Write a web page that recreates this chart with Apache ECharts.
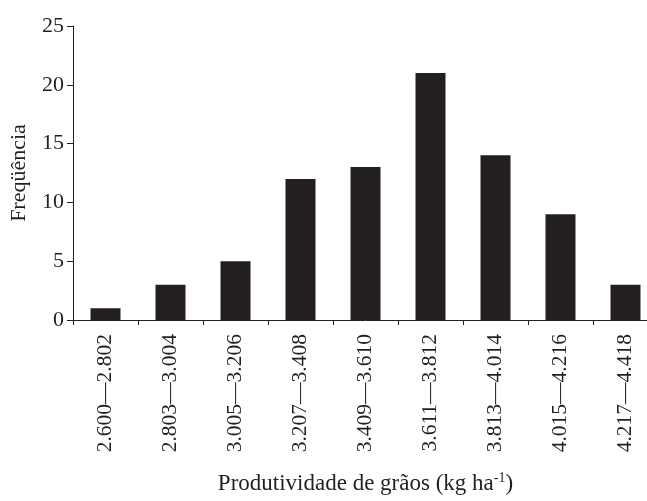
<!DOCTYPE html>
<html>
<head>
<meta charset="utf-8">
<script src="https://cdn.jsdelivr.net/npm/echarts@6/dist/echarts.min.js"></script>
<style>html,body{margin:0;padding:0;background:#fff;overflow:hidden;width:647px;height:501px}#c{width:662px;height:501px}</style>
</head>
<body>
<div id="c"></div>
<script>
const categories = ['2.600—2.802','2.803—3.004','3.005—3.206','3.207—3.408','3.409—3.610','3.611—3.812','3.813—4.014','4.015—4.216','4.217—4.418'];
const frequencies = [1, 3, 5, 12, 13, 21, 14, 9, 3];
const yTicks = {min: 0, max: 25, interval: 5};

const ink = '#231f20';
const font = 'Liberation Serif';
const chart = echarts.init(document.getElementById('c'), null, {renderer: 'canvas'});
chart.setOption({
  animation: false,
  backgroundColor: '#fff',
  grid: {left: 73, top: 26, width: 585, height: 294, containLabel: false},
  xAxis: {
    type: 'category',
    data: categories,
    boundaryGap: true,
    axisLine: {show: true, lineStyle: {color: ink, width: 1}},
    axisTick: {show: true, alignWithLabel: false, length: 5, lineStyle: {color: ink}},
    axisLabel: {rotate: 90, margin: 14, color: ink, fontFamily: font, fontSize: 21.5, interval: 0},
    name: '{a|Produtividade de grãos (kg ha}{s|-1}{a|)}',
    nameLocation: 'middle',
    nameGap: 151,
    nameTextStyle: {
      rich: {
        a: {fontFamily: font, fontSize: 23, color: ink},
        s: {fontFamily: font, fontSize: 14, color: ink, verticalAlign: 'top', padding: [0, 0, 12, 0]}
      }
    }
  },
  yAxis: {
    type: 'value',
    min: yTicks.min, max: yTicks.max, interval: yTicks.interval,
    splitLine: {show: false},
    axisLine: {show: true, lineStyle: {color: ink, width: 1}},
    axisTick: {show: true, length: 6, lineStyle: {color: ink}},
    axisLabel: {margin: 9, color: ink, fontFamily: font, fontSize: 22},
    name: 'Freqüência',
    nameLocation: 'middle',
    nameGap: 43,
    nameTextStyle: {fontFamily: font, fontSize: 22, color: ink}
  },
  series: [{
    type: 'bar',
    data: frequencies,
    barWidth: 30,
    itemStyle: {color: ink}
  }]
});
</script>
</body>
</html>
